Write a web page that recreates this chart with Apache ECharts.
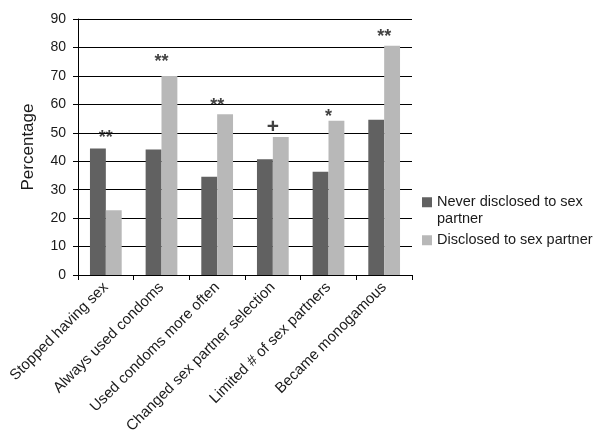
<!DOCTYPE html>
<html>
<head>
<meta charset="utf-8">
<script src="https://cdn.jsdelivr.net/npm/echarts@6/dist/echarts.min.js"></script>
<style>
  html, body { margin: 0; padding: 0; background: #fff; }
  #chart { width: 603px; height: 433px; }
</style>
</head>
<body>
<div id="chart"></div>
<script>
// categories and values
var categories = [
  'Stopped having sex',
  'Always used condoms',
  'Used condoms more often',
  'Changed sex partner selection',
  'Limited # of sex partners',
  'Became monogamous'
];
var neverDisclosed = [44.5, 44.1, 34.5, 40.7, 36.3, 54.6];
var disclosed = [22.8, 70.0, 56.5, 48.5, 54.2, 80.6];
// significance marks and the height they sit at
var sigLabels = ['**', '**', '**', '+', '*', '**'];
var sigHeights = [48.2, 74.9, 59.4, 52.0, 55.7, 83.7];
var yTicks = [0, 10, 20, 30, 40, 50, 60, 70, 80, 90];

var seriesNames = ['Never disclosed to sex partner', 'Disclosed to sex partner'];

var chart = echarts.init(document.getElementById('chart'));

var font = 'Liberation Sans, Arial, sans-serif';
var txt = '#1a1a1a';

var sigData = [];
for (var i = 0; i < categories.length; i++) {
  sigData.push([i, sigHeights[i]]);
}

var legendText = { fontFamily: font, fontSize: 14.5, color: txt, lineHeight: 16.5 };

var option = {
  animation: false,
  backgroundColor: '#fff',
  grid: { left: 78, right: 191, top: 19, bottom: 158, outerBoundsMode: 'none', containLabel: false },
  legend: [
    {
      // two-line entry: square lines up with the first line
      orient: 'vertical',
      left: 422,
      top: 194,
      padding: 0,
      itemWidth: 10,
      itemHeight: 26.5,
      icon: 'path://M0,0h10v10h-10z M0,26.5h10',
      formatter: function () { return 'Never disclosed to sex\npartner'; },
      textStyle: legendText,
      data: [seriesNames[0]]
    },
    {
      orient: 'vertical',
      left: 422,
      top: 232,
      padding: 0,
      itemWidth: 10,
      itemHeight: 10,
      icon: 'rect',
      textStyle: legendText,
      data: [seriesNames[1]]
    }
  ],
  xAxis: {
    type: 'category',
    data: categories,
    axisLine: { lineStyle: { color: '#000', width: 1 } },
    axisTick: { show: true, length: 5, lineStyle: { color: '#000' } },
    axisLabel: {
      interval: 0,
      rotate: 45,
      margin: 10,
      fontFamily: font,
      fontSize: 15,
      color: txt
    }
  },
  yAxis: {
    type: 'value',
    min: 0,
    max: 90,
    interval: 10,
    name: 'Percentage',
    nameLocation: 'middle',
    nameRotate: 90,
    nameGap: 41,
    nameTextStyle: { fontFamily: font, fontSize: 17, color: txt },
    axisLine: { show: true, lineStyle: { color: '#000', width: 1 } },
    axisTick: { show: true, length: 5, lineStyle: { color: '#000' } },
    axisLabel: {
      margin: 12,
      fontFamily: font,
      fontSize: 14,
      color: txt,
      formatter: function (v) { return yTicks.indexOf(v) >= 0 ? String(v) : ''; }
    },
    splitLine: { show: true, lineStyle: { color: '#000', width: 1 } }
  },
  series: [
    {
      name: seriesNames[0],
      type: 'bar',
      data: neverDisclosed,
      barGap: 0,
      barCategoryGap: '43%',
      itemStyle: { color: '#616161' }
    },
    {
      name: seriesNames[1],
      type: 'bar',
      data: disclosed,
      barGap: 0,
      barCategoryGap: '43%',
      itemStyle: { color: '#b8b8b8' }
    },
    {
      name: 'sig',
      type: 'scatter',
      data: sigData,
      symbolSize: 0,
      silent: true,
      z: 5,
      label: {
        show: true,
        position: 'inside',
        fontFamily: font,
        fontSize: 18,
        fontWeight: 'bold',
        color: '#111',
        formatter: function (p) {
          var s = sigLabels[p.dataIndex];
          return s === '+' ? '{plus|+}' : s;
        },
        rich: {
          plus: { fontFamily: font, fontSize: 21, fontWeight: 'bold', color: '#111' }
        }
      }
    }
  ]
};

chart.setOption(option);
</script>
</body>
</html>
